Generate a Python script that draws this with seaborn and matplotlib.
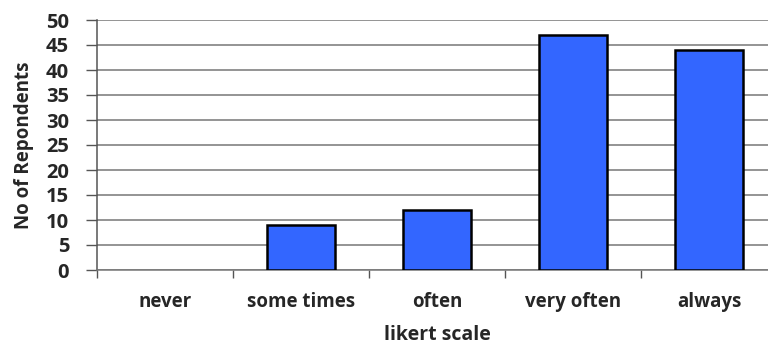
import matplotlib
matplotlib.use("Agg")
import matplotlib.pyplot as plt
from matplotlib.ticker import FixedLocator
import seaborn as sns
import pandas as pd

categories = ["never", "some times", "often", "very often", "always"]
respondents = [0, 9, 12, 47, 44]
y_ticks = [0, 5, 10, 15, 20, 25, 30, 35, 40, 45, 50]

sns.set_theme(style="white")
plt.rcParams["font.family"] = ["Open Sans", "DejaVu Sans"]

df = pd.DataFrame({"scale": categories, "count": respondents})

fig = plt.figure(figsize=(7.68, 3.47), dpi=100)
ax = fig.add_axes([97 / 768, 77 / 347, 680 / 768, 250 / 347])

sns.barplot(data=df, x="scale", y="count", color="#3366FF", saturation=1,
            width=0.5, edgecolor="black", linewidth=1.8, ax=ax, zorder=3)

# an empty category leaves no outline on the baseline
for patch in ax.patches:
    if patch.get_height() == 0:
        patch.set_visible(False)

ax.set_ylim(0, 50)
ax.set_xlim(-0.5, 4.5)
ax.set_yticks(y_ticks)
ax.yaxis.grid(True, color="#777777", linewidth=1.1, zorder=0)
ax.set_axisbelow(True)

for side in ("top", "right"):
    ax.spines[side].set_visible(False)
ax.spines["left"].set_color("#555555")
ax.spines["left"].set_linewidth(1.1)
ax.spines["bottom"].set_color("#777777")
ax.spines["bottom"].set_linewidth(1.1)

# Category labels sit between boundary ticks
ax.xaxis.set_major_locator(FixedLocator([-0.5, 0.5, 1.5, 2.5, 3.5, 4.5]))
ax.set_xticklabels([])
ax.xaxis.set_minor_locator(FixedLocator(range(len(categories))))
ax.set_xticklabels(categories, minor=True)
ax.tick_params(axis="x", which="major", direction="out", length=6, width=1,
               color="#555555", bottom=True)
ax.tick_params(axis="x", which="minor", length=0, pad=16, labelsize=13.5)
for lbl in ax.get_xticklabels(minor=True):
    lbl.set_fontweight("bold")

ax.tick_params(axis="y", direction="out", length=8, width=1, color="#555555",
               left=True, pad=12, labelsize=14.5)
for lbl in ax.get_yticklabels():
    lbl.set_fontweight("bold")

ax.set_xlabel("likert scale", fontsize=14, fontweight="bold", labelpad=9)
ax.set_ylabel("No of Repondents", fontsize=13.5, fontweight="bold", labelpad=9)

fig.savefig("out.png", dpi=100)
